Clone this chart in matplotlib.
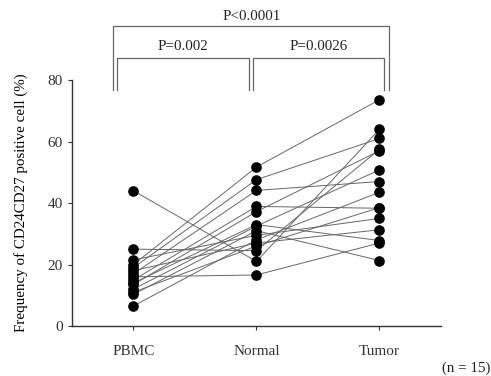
import matplotlib.pyplot as plt
import numpy as np

plt.rcParams["font.family"] = ["Liberation Serif", "DejaVu Serif"]

groups = ["PBMC", "Normal", "Tumor"]

# one entry per patient (n = 15)
pbmc = [44, 20, 19, 17, 15, 13.5, 12, 25, 6.5, 10.3, 16, 21.5, 18, 14, 11]
normal = [21, 51.7, 47.6, 44.1, 38.9, 37.2, 32.5, 24.5, 28, 31, 16.6, 29.5, 27, 33, 26]
tumor = [64, 73.6, 61, 47, 38.3, 57, 50.8, 57.5, 43.5, 21.3, 27, 35, 31.3, 27.8, 38.5]

p_labels = ["P=0.002", "P=0.0026", "P<0.0001"]

fig = plt.figure(figsize=(4.91, 3.76), dpi=100)
ax = fig.add_axes([0.1466, 0.133, 0.7515, 0.654])

x = np.arange(len(groups))
for a, b, c in zip(pbmc, normal, tumor):
    ax.plot(x, [a, b, c], color="#666666", lw=0.7, zorder=1)
for i, vals in enumerate([pbmc, normal, tumor]):
    ax.scatter([i] * len(vals), vals, s=44, color="black", zorder=2)

ax.set_xlim(-0.5, 2.5)
ax.set_ylim(0, 80)
ax.set_yticks([0, 20, 40, 60, 80])
ax.set_xticks(x)
ax.set_xticklabels(groups)
ax.spines["top"].set_visible(False)
ax.spines["right"].set_visible(False)
for s in ["left", "bottom"]:
    ax.spines[s].set_color("#333333")
    ax.spines[s].set_linewidth(1.0)
ax.tick_params(axis="both", labelsize=11, colors="#333333", length=3, width=0.8)
ax.tick_params(axis="x", pad=11)
ax.set_ylabel("Frequency of CD24CD27 positive cell (%)", fontsize=10.8, labelpad=14)


# significance brackets
def bracket(x0, x1, y_top, y_bot, label, ty):
    ax.plot([x0, x0, x1, x1], [y_bot, y_top, y_top, y_bot], color="#666666",
            lw=0.9, clip_on=False)
    ax.text((x0 + x1) / 2, ty, label, ha="center", va="center", fontsize=10.8,
            color="#222222")


bracket(-0.133, 0.939, 87.3, 76.7, p_labels[0], 90.8)
bracket(0.971, 2.033, 87.3, 76.7, p_labels[1], 90.8)
bracket(-0.163, 2.08, 97.6, 76.7, p_labels[2], 100.6)

fig.text(0.998, 0.003, "(n = 15)", ha="right", va="bottom", fontsize=10.8,
         color="#222222")

fig.savefig("out.png", dpi=100)
